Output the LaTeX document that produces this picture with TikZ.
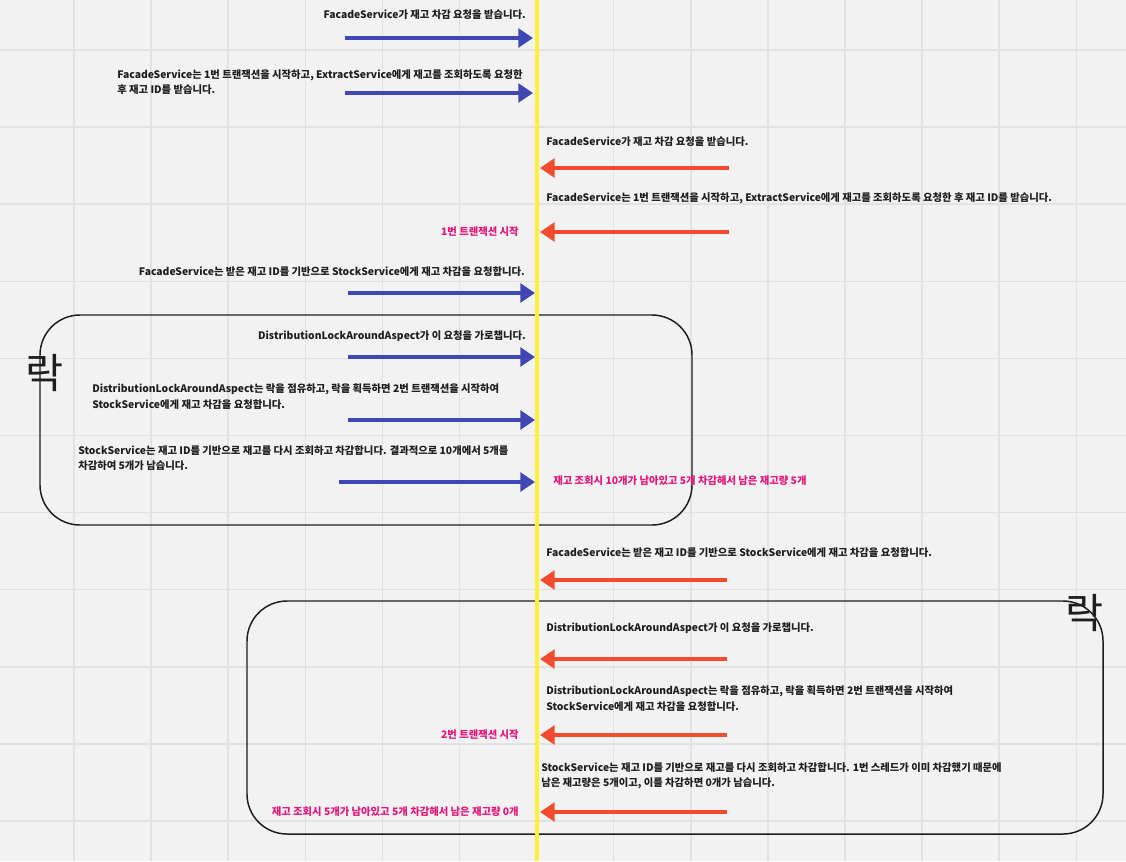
\documentclass[tikz,border=0pt]{standalone}
\usepackage{fontspec}
\newfontfamily\kr{Noto Sans CJK KR}
\usetikzlibrary{arrows.meta,positioning}
\definecolor{bgc}{HTML}{F2F2F2}
\definecolor{gridc}{HTML}{E2E2E2}
\definecolor{lifec}{HTML}{FFF03C}
\definecolor{reqc}{HTML}{3F47B5}
\definecolor{resc}{HTML}{F24B2D}
\definecolor{memoc}{HTML}{E5157A}
\definecolor{inkc}{HTML}{1E1E1E}
\tikzset{msg/.style = {font=\kr\bfseries\fontsize{7.75}{11.4}\selectfont, text=inkc, inner sep=0pt, align=left}}
\tikzset{memo/.style = {msg, text=memoc}}
\tikzset{locklabel/.style = {font=\kr\fontsize{31}{31}\selectfont, text=inkc, inner sep=0pt}}
\tikzset{lockbox/.style = {draw=inkc, line width=1.1pt, rounded corners=30pt}}
\tikzset{call/.style = {draw=reqc, line width=3.2pt, -{Triangle[length=11pt, width=14pt]}}}
\tikzset{reply/.style = {draw=resc, line width=3.2pt, -{Triangle[length=11pt, width=14pt]}}}

\begin{document}
\begin{tikzpicture}[x=0.75pt, y=-0.75pt]
  \fill[bgc] (0,0) rectangle (1126,861);
  \useasboundingbox (0,0) rectangle (1126,861);
  \foreach \i in {0,...,13} \draw[gridc, line width=1.1pt] (74+77.1*\i,0) -- (74+77.1*\i,861);
  \foreach \i in {0,...,10} \draw[gridc, line width=1.1pt] (0,50+77.1*\i) -- (1126,50+77.1*\i);

  \draw[lockbox] (40,315) rectangle (692,525);
  \draw[lockbox] (247,601) rectangle (1103,834);
  \node [locklabel] (lock1) at (45,373) {락};
  \node [locklabel] (lock2) at (1084,613) {락};

  \coordinate (top) at (537,0);
  \coordinate (bottom) at (537,861);
  \draw[lifec, line width=3pt] (top) -- (bottom);

  \node [msg, anchor=east] (t1) at (526,15) {FacadeService가 재고 차감 요청을 받습니다.};
  \node [msg, anchor=west] (t2) at (117,82) {FacadeService는 1번 트랜잭션을 시작하고, ExtractService에게 재고를 조회하도록 요청한\\후 재고 ID를 받습니다.};
  \node [msg, anchor=west] (t3) at (546,142) {FacadeService가 재고 차감 요청을 받습니다.};
  \node [msg, anchor=west] (t4) at (546,198) {FacadeService는 1번 트랜잭션을 시작하고, ExtractService에게 재고를 조회하도록 요청한 후 재고 ID를 받습니다.};
  \node [memo, anchor=east] (m1) at (519,232) {1번 트랜잭션 시작};
  \node [msg, anchor=east] (t5) at (525,272) {FacadeService는 받은 재고 ID를 기반으로 StockService에게 재고 차감을 요청합니다.};
  \node [msg, anchor=east] (t6) at (526,336) {DistributionLockAroundAspect가 이 요청을 가로챕니다.};
  \node [msg, anchor=west] (t7) at (92,396.5) {DistributionLockAroundAspect는 락을 점유하고, 락을 획득하면 2번 트랜잭션을 시작하여\\StockService에게 재고 차감을 요청합니다.};
  \node [msg, anchor=west] (t8) at (78,458) {StockService는 재고 ID를 기반으로 재고를 다시 조회하고 차감합니다. 결과적으로 10개에서 5개를\\차감하여 5개가 남습니다.};
  \node [memo, anchor=west] (m2) at (553,481) {재고 조회시 10개가 남아있고 5개 차감해서 남은 재고량 5개};
  \node [msg, anchor=west] (t9) at (546,553) {FacadeService는 받은 재고 ID를 기반으로 StockService에게 재고 차감을 요청합니다.};
  \node [msg, anchor=west] (t10) at (546,628) {DistributionLockAroundAspect가 이 요청을 가로챕니다.};
  \node [msg, anchor=west] (t11) at (546,698.5) {DistributionLockAroundAspect는 락을 점유하고, 락을 획득하면 2번 트랜잭션을 시작하여\\StockService에게 재고 차감을 요청합니다.};
  \node [memo, anchor=east] (m3) at (519,735) {2번 트랜잭션 시작};
  \node [msg, anchor=west] (t12) at (541,775.5) {StockService는 재고 ID를 기반으로 재고를 다시 조회하고 차감합니다. 1번 스레드가 이미 차감했기 때문에\\남은 재고량은 5개이고, 이를 차감하면 0개가 남습니다.};
  \node [memo, anchor=east] (m4) at (519,812) {재고 조회시 5개가 남아있고 5개 차감해서 남은 재고량 0개};

  \coordinate (a1) at (345,38);  \coordinate (a1e) at (533,38);
  \coordinate (a2) at (345,93);  \coordinate (a2e) at (533,93);
  \coordinate (a3) at (348,293); \coordinate (a3e) at (535,293);
  \coordinate (a4) at (348,357); \coordinate (a4e) at (535,357);
  \coordinate (a5) at (348,420); \coordinate (a5e) at (535,420);
  \coordinate (a6) at (339,482); \coordinate (a6e) at (535,482);
  \coordinate (r1) at (729,168); \coordinate (r1e) at (540,168);
  \coordinate (r2) at (729,232); \coordinate (r2e) at (540,232);
  \coordinate (r3) at (727,580); \coordinate (r3e) at (540,580);
  \coordinate (r4) at (727,659); \coordinate (r4e) at (540,659);
  \coordinate (r5) at (727,735); \coordinate (r5e) at (540,735);
  \coordinate (r6) at (727,812); \coordinate (r6e) at (540,812);

  \draw[call] (a1) -- (a1e);
  \draw[call] (a2) -- (a2e);
  \draw[call] (a3) -- (a3e);
  \draw[call] (a4) -- (a4e);
  \draw[call] (a5) -- (a5e);
  \draw[call] (a6) -- (a6e);

  \draw[reply] (r1) -- (r1e);
  \draw[reply] (r2) -- (r2e);
  \draw[reply] (r3) -- (r3e);
  \draw[reply] (r4) -- (r4e);
  \draw[reply] (r5) -- (r5e);
  \draw[reply] (r6) -- (r6e);
\end{tikzpicture}
\end{document}
